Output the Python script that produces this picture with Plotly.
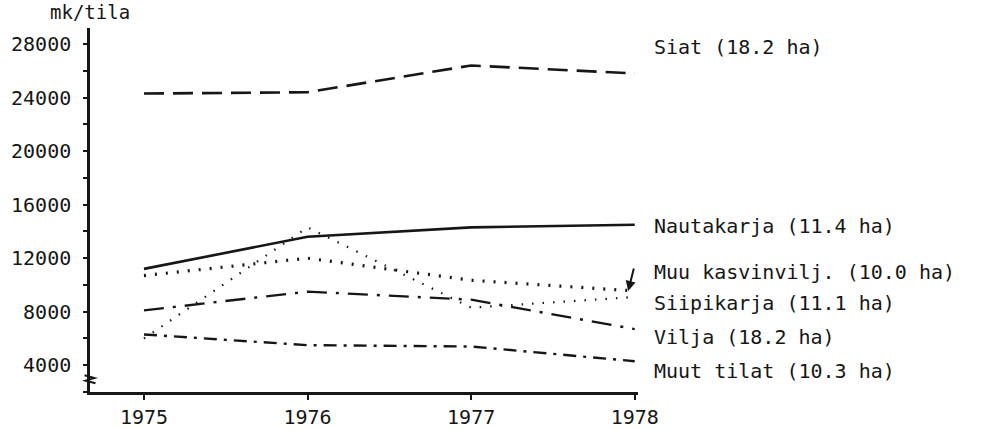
import plotly.graph_objects as go

years = [1975, 1976, 1977, 1978]
siat = [24300, 24400, 26400, 25800]
nautakarja = [11200, 13600, 14300, 14500]
muu_kasvinvilj = [10700, 12000, 10350, 9550]
siipikarja = [6000, 14300, 8300, 9100]
vilja = [8100, 9500, 8900, 6700]
muut_tilat = [6300, 5500, 5400, 4300]

labels = ["Siat (18.2 ha)", "Nautakarja (11.4 ha)", "Muu kasvinvilj. (10.0 ha)",
          "Siipikarja (11.1 ha)", "Vilja (18.2 ha)", "Muut tilat (10.3 ha)"]
label_y = [27800, 14400, 11000, 8650, 6100, 3550]

y_ticks = [4000, 8000, 12000, 16000, 20000, 24000, 28000]
x_ticks = [1975, 1976, 1977, 1978]

FONT = "DejaVu Sans Mono"
INK = "#161616"

series = [
    (siat, dict(width=2.6, dash="20px,9px")),
    (nautakarja, dict(width=2.6, dash="solid")),
    (muu_kasvinvilj, dict(width=3.2, dash="2px,9px")),
    (siipikarja, dict(width=2.2, dash="1.5px,9px")),
    (vilja, dict(width=2.4, dash="20px,9px,3px,9px")),
    (muut_tilat, dict(width=2.4, dash="13px,7px,3px,7px")),
]

fig = go.Figure()
for vals, ln in series:
    fig.add_trace(go.Scatter(x=years, y=vals, mode="lines",
                             line=dict(color=INK, **ln), showlegend=False,
                             hoverinfo="skip"))

for txt, ly in zip(labels, label_y):
    fig.add_annotation(x=1.0, xref="paper", xshift=14, y=ly, yref="y", text=txt,
                       showarrow=False, xanchor="left", yanchor="middle",
                       font=dict(family=FONT, size=20, color=INK))

# arrow pointing to Muu kasvinvilj line
fig.add_annotation(x=1977.96, y=muu_kasvinvilj[-1], xref="x", yref="y",
                   ax=6, ay=-24, showarrow=True, arrowhead=2, arrowsize=1,
                   arrowwidth=2, arrowcolor=INK, text="")

# y axis title
fig.add_annotation(x=-0.077, xref="paper", y=29200, yref="y", text="mk/tila",
                   showarrow=False, xanchor="left", yanchor="bottom", yshift=3,
                   font=dict(family=FONT, size=19, color=INK))

# axis break mark
fig.add_shape(type="path", xref="paper", yref="y",
              path="M -0.010 3250 L 0.008 3050 L -0.008 2850 L 0.010 2650",
              line=dict(color=INK, width=2))

fig.update_layout(
    width=1002, height=429,
    margin=dict(l=90, r=364, t=28, b=37),
    paper_bgcolor="white", plot_bgcolor="white",
    font=dict(family=FONT, size=20, color=INK),
    xaxis=dict(range=[1974.67, 1978.02], tickvals=x_ticks, automargin=False,
               ticktext=[str(v) for v in x_ticks], showgrid=False,
               zeroline=False, showline=True, linecolor=INK, linewidth=2.5,
               ticks="outside", ticklen=5, tickwidth=2, tickcolor=INK,
               tickfont=dict(family=FONT, size=20, color=INK)),
    yaxis=dict(range=[2000, 29200], tickvals=y_ticks, automargin=False,
               ticktext=[str(v) for v in y_ticks], showgrid=False,
               zeroline=False, showline=True, linecolor=INK, linewidth=2.5,
               ticks="outside", ticklen=4, tickwidth=2, tickcolor=INK,
               minor=dict(dtick=2000, tick0=0, ticks="outside", ticklen=4,
                          tickwidth=2, tickcolor=INK, showgrid=False),
               ticklabelstandoff=8,
               tickfont=dict(family=FONT, size=20, color=INK)),
)

fig.write_html("out.html", config={"displayModeBar": False},
               post_script="document.body.style.margin='0';document.body.style.overflow='hidden';")
